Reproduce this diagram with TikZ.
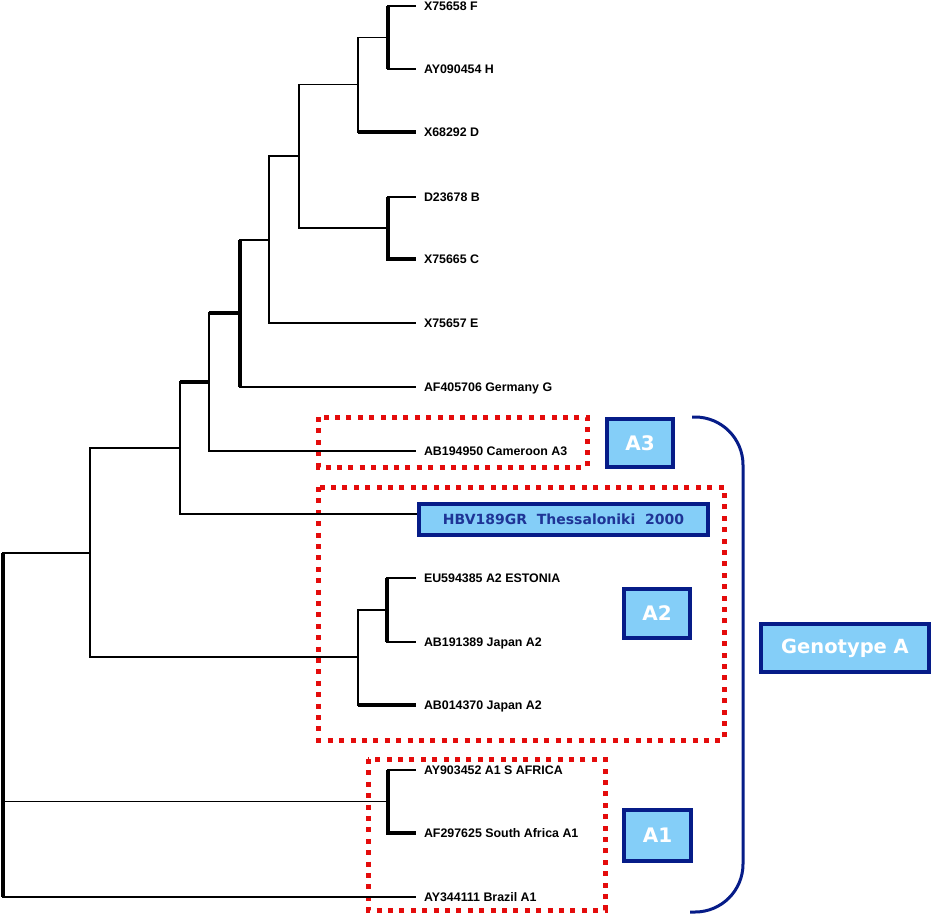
\documentclass[tikz,border=0pt]{standalone}
\usepackage{fontspec}
\setmainfont{Liberation Sans}
\newfontfamily\boxfont{DejaVu Sans}
\usetikzlibrary{calc}

\definecolor{cladered}{RGB}{228,12,12}
\definecolor{boxblue}{RGB}{132,206,248}
\definecolor{boxnavy}{RGB}{6,28,136}
\definecolor{hbvtext}{RGB}{30,52,150}

\tikzset{
	branchline/.style={line width=1.4pt, black},
	branchthick/.style={line width=3.4pt, black},
	leaf/.style={anchor=west, inner sep=0pt, outer xsep=8pt, text height=9pt, text depth=0pt, font=\bfseries\fontsize{12.4pt}{15pt}\selectfont},
	clade/.style={draw=cladered, line width=5pt, dash pattern=on 5pt off 6.4pt},
	cladetag/.style={draw=boxnavy, fill=boxblue, line width=4pt, inner sep=0pt, text=white, font=\boxfont\bfseries\fontsize{20pt}{24pt}\selectfont},
	genobracket/.style={draw=boxnavy, line width=3pt, rounded corners=48pt}
}

\begin{document}
\begin{tikzpicture}[x=1pt, y=-1pt]
		%%%%% START %%%%%
		\useasboundingbox (0,0) rectangle (933,915);
		
		% clade frames
		\draw[clade] (318.5,417) rectangle (587,467);
		\draw[clade] (318.5,487) rectangle (724,740);
		\draw[clade] (368,759) rectangle (605,910);
		
		% leaves
		\node[leaf] (lF) at (416,6) {X75658 F};
		\node[leaf] (lH) at (416,69) {AY090454 H};
		\node[leaf] (lD) at (416,132) {X68292 D};
		\node[leaf] (lB) at (416,197) {D23678 B};
		\node[leaf] (lC) at (416,259) {X75665 C};
		\node[leaf] (lE) at (416,323) {X75657 E};
		\node[leaf] (lG) at (416,387) {AF405706 Germany G};
		\node[leaf] (lA3) at (416,451) {AB194950 Cameroon A3};
		\node[leaf] (lEU) at (416,578) {EU594385 A2 ESTONIA};
		\node[leaf] (lJPa) at (416,642) {AB191389 Japan A2};
		\node[leaf] (lJPb) at (416,705) {AB014370 Japan A2};
		\node[leaf] (lSA) at (416,770) {AY903452 A1 S AFRICA};
		\node[leaf] (lSAb) at (416,833) {AF297625 South Africa A1};
		\node[leaf] (lBR) at (416,897) {AY344111 Brazil A1};
		
		\node[cladetag, text=hbvtext, minimum width=289pt, minimum height=31pt, font=\boxfont\bfseries\fontsize{14pt}{16pt}\selectfont] (hbv) at (563.5,519.5) {HBV189GR\ \ Thessaloniki\ \ 2000};
		
		% inner nodes
		\coordinate (nFH) at (388,37.5);
		\coordinate (nFHD) at (358,84.5);
		\coordinate (nBC) at (388,228);
		\coordinate (nFHDBC) at (299,156);
		\coordinate (nE) at (269,240);
		\coordinate (nG) at (240,313);
		\coordinate (nA3) at (209,382);
		\coordinate (nHBV) at (180,448);
		\coordinate (nOut) at (90,553);
		\coordinate (nA2in) at (387,610);
		\coordinate (nA2) at (358,657);
		\coordinate (nA1) at (388,801.5);
		\coordinate (root) at (3,725);
		
		\draw[branchline] (nFH) |- (lF.west);
		\draw[branchline] (nFH) |- (lH.west);
		\draw[branchline] (nFHD) |- (nFH);
		\draw[branchline] (nFHD) |- (lD.west);
		\draw[branchline] (nBC) |- (lB.west);
		\draw[branchline] (nBC) |- (lC.west);
		\draw[branchline] (nFHDBC) |- (nFHD);
		\draw[branchline] (nFHDBC) |- (nBC);
		\draw[branchline] (nE) |- (nFHDBC);
		\draw[branchline] (nE) |- (lE.west);
		\draw[branchline] (nG) |- (nE);
		\draw[branchline] (nG) |- (lG.west);
		\draw[branchline] (nA3) |- (nG);
		\draw[branchline] (nA3) |- (lA3.west);
		\draw[branchline] (nHBV) |- (nA3);
		\draw[branchline] (nHBV) |- ([yshift=5.5pt]hbv.west);
		\draw[branchline] (nOut) |- (nHBV);
		\draw[branchline] (nOut) |- (nA2);
		\draw[branchline] (nA2in) |- (lEU.west);
		\draw[branchline] (nA2in) |- (lJPa.west);
		\draw[branchline] (nA2) |- (nA2in);
		\draw[branchline] (nA2) |- (lJPb.west);
		\draw[branchline] (nA1) |- (lSA.west);
		\draw[branchline] (nA1) |- (lSAb.west);
		\draw[branchline] (root) |- (nOut);
		\draw[branchline] (root) |- (nA1);
		\draw[branchline] (root) |- (lBR.west);
		
		% thick branches
		\draw[branchthick] (nFH |- lF.west) -- (nFH |- lH.west);
		\draw[branchthick] (nFHD |- lD.west) -- (lD.west);
		\draw[branchthick] (nBC |- lB.west) -- (nBC |- lC.west) -- (lC.west);
		\draw[branchthick] (nG |- nE) -- (nG |- lG.west);
		\draw[branchthick] (nA3 |- nG) -- (nG);
		\draw[branchthick] (nHBV |- nA3) -- (nA3);
		\draw[branchthick] (root |- nOut) -- (root |- lBR.west);
		\draw[branchthick] (nA2in |- lEU.west) -- (nA2in |- lJPa.west);
		\draw[branchthick] (nA2 |- lJPb.west) -- (lJPb.west);
		\draw[branchthick] (nA1 |- lSA.west) -- (nA1 |- lSAb.west) -- (lSAb.west);
		
		% subgenotype tags
		\node[cladetag, minimum width=66pt, minimum height=48pt] (tA3) at (640,443) {A3};
		\node[cladetag, minimum width=66pt, minimum height=49pt] (tA2) at (657,613.5) {A2};
		\node[cladetag, minimum width=67pt, minimum height=51pt] (tA1) at (657.5,835.5) {A1};
		\node[cladetag, minimum width=168pt, minimum height=48pt, font=\boxfont\bfseries\fontsize{19.5pt}{22pt}\selectfont] (geno) at (845,648) {Genotype A};
		
		\draw[genobracket] (692,417) -- (743,417) -- (743,912) -- (690,912);
		
		%%%%% END %%%%%
\end{tikzpicture}
\end{document}
